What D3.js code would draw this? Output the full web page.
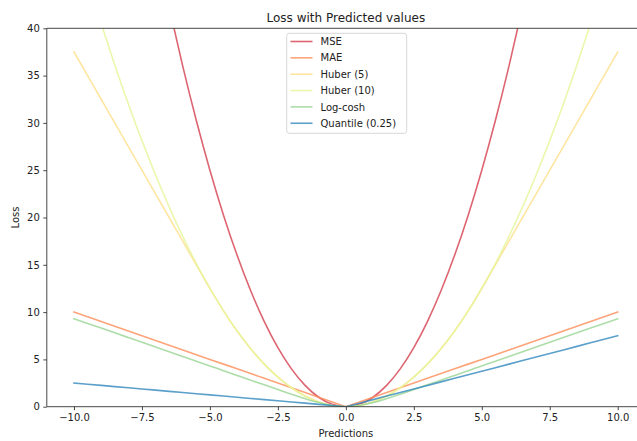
<!DOCTYPE html>
<html><head><meta charset="utf-8">
<script src="https://cdn.jsdelivr.net/npm/d3@7"></script>
<style>
html,body{margin:0;padding:0;background:#fff;}
svg{display:block;font-family:"DejaVu Sans",sans-serif;}
</style></head>
<body>
<svg id="chart" width="637" height="441"></svg>
<script>
const xs = [-10,-9.5,-9,-8.5,-8,-7.5,-7,-6.5,-6,-5.5,-5,-4.5,-4,-3.5,-3,-2.5,-2,-1.5,-1,-0.5,0,0.5,1,1.5,2,2.5,3,3.5,4,4.5,5,5.5,6,6.5,7,7.5,8,8.5,9,9.5,10];
const mse = [100,90.25,81,72.25,64,56.25,49,42.25,36,30.25,25,20.25,16,12.25,9,6.25,4,2.25,1,0.25,0,0.25,1,2.25,4,6.25,9,12.25,16,20.25,25,30.25,36,42.25,49,56.25,64,72.25,81,90.25,100];
const mae = [10,9.5,9,8.5,8,7.5,7,6.5,6,5.5,5,4.5,4,3.5,3,2.5,2,1.5,1,0.5,0,0.5,1,1.5,2,2.5,3,3.5,4,4.5,5,5.5,6,6.5,7,7.5,8,8.5,9,9.5,10];
const huber5 = [37.5,35,32.5,30,27.5,25,22.5,20,17.5,15,12.5,10.125,8,6.125,4.5,3.125,2,1.125,0.5,0.125,0,0.125,0.5,1.125,2,3.125,4.5,6.125,8,10.125,12.5,15,17.5,20,22.5,25,27.5,30,32.5,35,37.5];
const huber10 = [50,45.125,40.5,36.125,32,28.125,24.5,21.125,18,15.125,12.5,10.125,8,6.125,4.5,3.125,2,1.125,0.5,0.125,0,0.125,0.5,1.125,2,3.125,4.5,6.125,8,10.125,12.5,15.125,18,21.125,24.5,28.125,32,36.125,40.5,45.125,50];
const logcosh = [9.3069,8.8069,8.3069,7.8069,7.3069,6.8069,6.3069,5.8069,5.3069,4.8069,4.3069,3.8070,3.3072,2.8078,2.3093,1.8136,1.3250,0.8554,0.4338,0.1201,0,0.1201,0.4338,0.8554,1.3250,1.8136,2.3093,2.8078,3.3072,3.8070,4.3069,4.8069,5.3069,5.8069,6.3069,6.8069,7.3069,7.8069,8.3069,8.8069,9.3069];
const quantile = [2.5,2.375,2.25,2.125,2,1.875,1.75,1.625,1.5,1.375,1.25,1.125,1,0.875,0.75,0.625,0.5,0.375,0.25,0.125,0,0.375,0.75,1.125,1.5,1.875,2.25,2.625,3,3.375,3.75,4.125,4.5,4.875,5.25,5.625,6,6.375,6.75,7.125,7.5];
const seriesNames = ["MSE","MAE","Huber (5)","Huber (10)","Log-cosh","Quantile (0.25)"];
const seriesValues = [mse, mae, huber5, huber10, logcosh, quantile];
const seriesColors = ["#d53e4f","#fc8d59","#fee08b","#e6f598","#99d594","#3288bd"];
const seriesSmooth = [true,false,true,true,true,false];
const xTicks = [-10,-7.5,-5,-2.5,0,2.5,5,7.5,10];
const yTicks = [0,5,10,15,20,25,30,35,40];
const title = "Loss with Predicted values";
const xLabel = "Predictions";
const yLabel = "Loss";

const svg = d3.select("#chart");
const L = 46.8, R = 644.9, T = 28.3, B = 406.7;
const x = d3.scaleLinear().domain([-11, 11]).range([L, R]);
const y = d3.scaleLinear().domain([0, 40]).range([B, T]);

svg.append("defs").append("clipPath").attr("id","clip")
  .append("rect").attr("x",L).attr("y",T).attr("width",R-L).attr("height",B-T);

const plot = svg.append("g").attr("clip-path","url(#clip)");
seriesValues.forEach((vals,i)=>{
  const line = d3.line()
    .x((d,j)=>x(xs[j])).y(d=>y(d))
    .curve(seriesSmooth[i] ? d3.curveMonotoneX : d3.curveLinear);
  plot.append("path").datum(vals)
    .attr("d", line)
    .attr("fill","none")
    .attr("stroke", seriesColors[i])
    .attr("stroke-opacity", 0.8)
    .attr("stroke-width", 1.6)
    .attr("stroke-linejoin","round")
    .attr("stroke-linecap","square");
});

// axes
const xAxis = d3.axisBottom(x).tickValues(xTicks).tickFormat(d3.format(".1f")).tickSize(3.5).tickPadding(3.5);
const yAxis = d3.axisLeft(y).tickValues(yTicks).tickFormat(d3.format("d")).tickSize(3.5).tickPadding(3.5);
const gx = svg.append("g").attr("transform",`translate(0,${B})`).call(xAxis);
const gy = svg.append("g").attr("transform",`translate(${L},0)`).call(yAxis);
[gx,gy].forEach(g=>{
  g.select(".domain").remove();
  g.selectAll(".tick line").attr("stroke","#333").attr("stroke-width",0.9);
  g.selectAll(".tick text").attr("fill","#222").style("font-size","10px").style("font-family","DejaVu Sans");
});
gx.selectAll(".tick text").text(d=>d3.format(".1f")(d).replace("-","\u2212"));

// spines: left, bottom, top (right is off-canvas)
const sp = svg.append("g").attr("stroke","#333").attr("stroke-width",0.9).attr("fill","none");
sp.append("line").attr("x1",L).attr("x2",L).attr("y1",T).attr("y2",B);
sp.append("line").attr("x1",L).attr("x2",R).attr("y1",B).attr("y2",B);
sp.append("line").attr("x1",L).attr("x2",R).attr("y1",T).attr("y2",T);

// title and labels
const cx = (L+R)/2;
svg.append("text").attr("x",cx).attr("y",21.5).attr("text-anchor","middle")
  .style("font-size","12px").attr("fill","#222").text(title);
svg.append("text").attr("x",cx).attr("y",436.5).attr("text-anchor","middle")
  .style("font-size","10px").attr("fill","#222").text(xLabel);
svg.append("text").attr("transform",`translate(19,${(T+B)/2}) rotate(-90)`).attr("text-anchor","middle")
  .style("font-size","10px").attr("fill","#222").text(yLabel);

// legend
const lg = svg.append("g");
lg.append("rect").attr("x",286.7).attr("y",33.3).attr("width",120).attr("height",100)
  .attr("rx",2.5).attr("fill","#fff").attr("fill-opacity",0.8)
  .attr("stroke","#d8d8d8").attr("stroke-width",1);
seriesNames.forEach((name,i)=>{
  const yy = 41.5 + i*16.35;
  lg.append("line").attr("x1",290.5).attr("x2",312.5).attr("y1",yy).attr("y2",yy)
    .attr("stroke",seriesColors[i]).attr("stroke-opacity",0.8).attr("stroke-width",1.6);
  lg.append("text").attr("x",320.5).attr("y",yy).attr("dy","0.36em")
    .style("font-size","10px").attr("fill","#222").text(name);
});
</script>
</body></html>
